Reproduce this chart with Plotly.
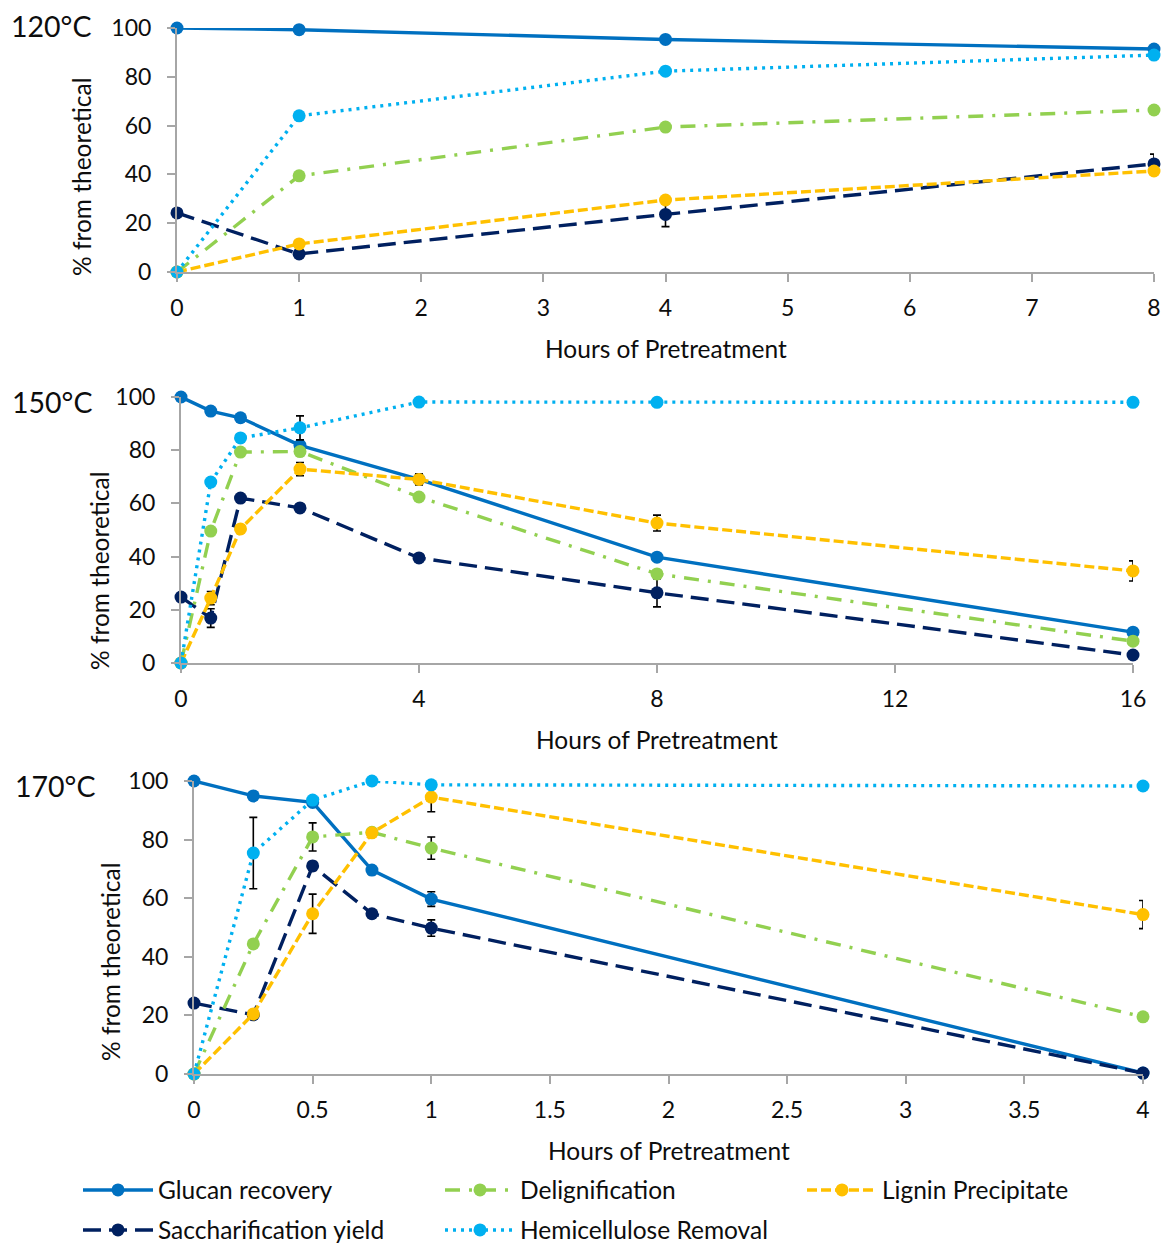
import plotly.graph_objects as go

W, H = 1165, 1243

# ---- data -------------------------------------------------------------
hours_120 = [0, 1, 4, 8]
glucan_120 = [100, 99.3, 95.3, 91.4]
sacch_120 = [24.2, 7.4, 23.6, 44.3]
delig_120 = [0, 39.4, 59.4, 66.4]
lignin_120 = [0, 11.5, 29.5, 41.4]
hemi_120 = [0, 64.0, 82.3, 88.9]
sacch_120_err = [0, 0, 5.0, 4.0]

hours_150 = [0, 0.5, 1, 2, 4, 8, 16]
glucan_150 = [100, 94.7, 92.2, 81.8, 69.0, 39.8, 11.6]
sacch_150 = [24.8, 16.9, 62.0, 58.3, 39.5, 26.4, 3.0]
delig_150 = [0, 49.6, 79.3, 79.5, 62.4, 33.5, 8.2]
lignin_150 = [0, 24.4, 50.4, 72.9, 69.0, 52.6, 34.6]
hemi_150 = [0, 68.0, 84.6, 88.4, 98.1, 98.0, 98.0]
glucan_150_err = [0, 0, 0, 0, 2.0, 0, 0]
sacch_150_err = [0, 3.5, 0, 0, 0, 5.3, 0]
delig_150_err = [0, 0, 0, 0, 0, 1.5, 0]
lignin_150_err = [0, 2.5, 0, 2.5, 2.0, 3.0, 3.8]
hemi_150_err = [0, 0, 0, 4.5, 0, 0, 0]

hours_170 = [0, 0.25, 0.5, 0.75, 1, 4]
glucan_170 = [100, 94.9, 92.7, 69.6, 59.7, 0.3]
sacch_170 = [24.2, 20.2, 71.0, 54.7, 49.8, 0.3]
delig_170 = [0, 44.4, 80.9, 82.5, 77.1, 19.5]
lignin_170 = [0, 20.5, 54.7, 82.3, 94.5, 54.4]
hemi_170 = [0, 75.4, 93.5, 100, 98.7, 98.3]
glucan_170_err = [0, 0, 0, 1.5, 2.5, 0]
sacch_170_err = [0, 1.5, 1.5, 0, 2.8, 0]
delig_170_err = [0, 0, 4.8, 1.0, 3.8, 0]
lignin_170_err = [0, 0, 6.7, 0, 5.0, 4.8]
hemi_170_err = [0, 12.2, 0, 0, 0, 0]

temperatures = ["120°C", "150°C", "170°C"]
x_title = "Hours of Pretreatment"
y_title = "% from theoretical"

# ---- series styling ---------------------------------------------------
series = {
    "Glucan recovery": dict(color="#0070C0", dash="solid", legend="legend", rank=1),
    "Saccharification yield": dict(color="#002060", dash="18px,8px", legend="legend2", rank=1),
    "Delignification": dict(color="#92D050", dash="15px,9px,3px,9px", legend="legend", rank=2),
    "Lignin Precipitate": dict(color="#FFC000", dash="10px,4px", legend="legend", rank=3),
    "Hemicellulose Removal": dict(color="#00B0F0", dash="3px,5px", legend="legend2", rank=2),
}

# px / py: pixel extents of each plot area; ytitle_py: centre of the y title
panels = [
    dict(x=hours_120, vals={"Glucan recovery": glucan_120, "Saccharification yield": sacch_120,
                            "Delignification": delig_120, "Lignin Precipitate": lignin_120,
                            "Hemicellulose Removal": hemi_120},
         errs={"Saccharification yield": sacch_120_err},
         xrange=[0, 8], dtick=1, px=(177, 1154), py=(28, 272),
         ytitle_px=81, ytitle_py=177, temp_px=9, temp_py=26),
    dict(x=hours_150, vals={"Glucan recovery": glucan_150, "Saccharification yield": sacch_150,
                            "Delignification": delig_150, "Lignin Precipitate": lignin_150,
                            "Hemicellulose Removal": hemi_150},
         errs={"Glucan recovery": glucan_150_err, "Saccharification yield": sacch_150_err,
               "Delignification": delig_150_err, "Lignin Precipitate": lignin_150_err,
               "Hemicellulose Removal": hemi_150_err},
         xrange=[0, 16], dtick=4, px=(181, 1133), py=(397, 663),
         ytitle_px=99, ytitle_py=570, temp_px=10, temp_py=402),
    dict(x=hours_170, vals={"Glucan recovery": glucan_170, "Saccharification yield": sacch_170,
                            "Delignification": delig_170, "Lignin Precipitate": lignin_170,
                            "Hemicellulose Removal": hemi_170},
         errs={"Glucan recovery": glucan_170_err, "Saccharification yield": sacch_170_err,
               "Delignification": delig_170_err, "Lignin Precipitate": lignin_170_err,
               "Hemicellulose Removal": hemi_170_err},
         xrange=[0, 4], dtick=0.5, px=(194, 1143), py=(781, 1074),
         ytitle_px=110, ytitle_py=962, temp_px=13, temp_py=786),
]

draw_order = ["Glucan recovery", "Saccharification yield", "Delignification",
              "Lignin Precipitate", "Hemicellulose Removal"]


def fx(px):
    return px / W


def fy(py):
    return 1 - py / H


FONT = "Lato"
TXT = "#0d0d0d"
AXIS = "#a6a6a6"

fig = go.Figure()
layout = dict(
    width=W, height=H,
    margin=dict(l=0, r=0, t=0, b=0, autoexpand=False),
    paper_bgcolor="white", plot_bgcolor="white",
    font=dict(family=FONT, color=TXT, size=22),
    showlegend=True,
)
annotations = []

for i, p in enumerate(panels):
    n = "" if i == 0 else str(i + 1)
    for name in draw_order:
        st = series[name]
        err = p["errs"].get(name)
        fig.add_trace(go.Scatter(
            x=p["x"], y=p["vals"][name], name=name,
            mode="lines+markers", xaxis="x" + n, yaxis="y" + n,
            line=dict(color=st["color"], width=3.4, dash=st["dash"]),
            marker=dict(color=st["color"], size=13),
            error_y=dict(type="data", array=err, visible=err is not None,
                         color="black", thickness=1.6, width=4),
            cliponaxis=False, showlegend=(i == 2),
            legend=st["legend"], legendrank=st["rank"],
        ))
    (x0, x1), (y0, y1) = p["px"], p["py"]
    layout["xaxis" + n] = dict(
        domain=[fx(x0), fx(x1)], range=p["xrange"], dtick=p["dtick"],
        anchor="y" + n, showgrid=False, zeroline=False,
        showline=True, linecolor=AXIS, linewidth=2,
        ticks="outside", ticklen=8, tickcolor=AXIS, tickwidth=2,
        tickfont=dict(size=23), ticklabelstandoff=6,
    )
    layout["yaxis" + n] = dict(
        domain=[fy(y1), fy(y0)], range=[0, 100], dtick=20,
        anchor="x" + n, showgrid=False, zeroline=False,
        showline=True, linecolor=AXIS, linewidth=2,
        ticks="outside", ticklen=8, tickcolor=AXIS, tickwidth=2,
        tickfont=dict(size=23), ticklabelstandoff=11,
    )
    annotations.append(dict(
        text=x_title, xref="paper", yref="paper",
        x=fx((x0 + x1) / 2), y=fy(y1 + 76), showarrow=False,
        font=dict(size=24.5), xanchor="center", yanchor="middle",
    ))
    annotations.append(dict(
        text=y_title, xref="paper", yref="paper", textangle=-90,
        x=fx(p["ytitle_px"]), y=fy(p["ytitle_py"]), showarrow=False,
        font=dict(size=24.5), xanchor="center", yanchor="middle",
    ))
    annotations.append(dict(
        text=temperatures[i], xref="paper", yref="paper",
        x=fx(p["temp_px"]), y=fy(p["temp_py"]), showarrow=False,
        font=dict(size=28.5), xanchor="left", yanchor="middle",
    ))

layout["annotations"] = annotations
legend_common = dict(
    orientation="h", xanchor="left", yanchor="middle",
    entrywidth=277, entrywidthmode="pixels", itemwidth=70,
    font=dict(size=24.5), bgcolor="rgba(0,0,0,0)",
)
layout["legend"] = dict(legend_common, x=fx(78), y=fy(1190))
layout["legend2"] = dict(legend_common, x=fx(78), y=fy(1230))
fig.update_layout(**layout)
fig.write_html("out.html")
